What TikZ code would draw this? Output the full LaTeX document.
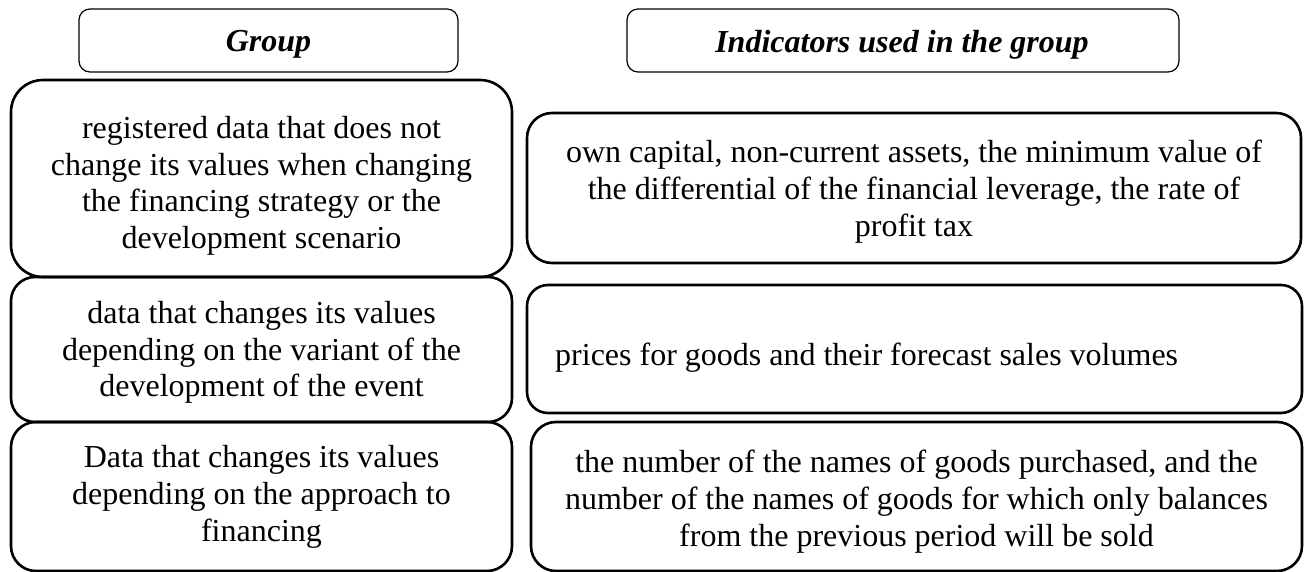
\documentclass[tikz,border=0pt]{standalone}
\usepackage{fontspec}
\setmainfont{Liberation Serif}
\begin{document}
\begin{tikzpicture}[x=1pt,y=-1pt,
  hdrbox/.style={draw, line width=1.2pt, rounded corners=11pt, inner sep=0pt},
  grpbox/.style={draw, line width=2.6pt, inner sep=0pt},
  txt/.style={align=center, inner sep=0pt, font=\fontsize{32}{36.8}\selectfont},
  hdrtxt/.style={inner sep=0pt, font=\fontsize{32}{36.8}\selectfont\bfseries\itshape}]
\useasboundingbox (0,0) rectangle (1310,572);
% headers
\node[hdrbox, minimum width=379pt, minimum height=63pt] (h1) at (268.5,40.5) {};
\node[hdrtxt] (h1t) at (268.5,44.5) {Group};
\node[hdrbox, minimum width=552pt, minimum height=63pt] (h2) at (903,40.5) {};
\node[hdrtxt] (h2t) at (902,45) {Indicators used in the group};
% left column
\node[grpbox, rounded corners=32pt, minimum width=501pt, minimum height=197pt] (g1) at (261.5,178.5) {};
\node[grpbox, rounded corners=24pt, minimum width=501pt, minimum height=145pt] (g2) at (261.5,349.5) {};
\node[grpbox, rounded corners=25pt, minimum width=501pt, minimum height=149pt] (g3) at (261.5,496.5) {};
\node[txt] (g1t) at (261.5,185.8) {registered data that does not\\change its values when changing\\the financing strategy or the\\development scenario};
\node[txt] (g2t) at (261.5,352.4) {data that changes its values\\depending on the variant of the\\development of the event};
\node[txt] (g3t) at (261.5,496.7) {Data that changes its values\\depending on the approach to\\financing};
% right column
\node[grpbox, rounded corners=25pt, minimum width=774pt, minimum height=150pt] (r1) at (914,188) {};
\node[grpbox, rounded corners=21pt, minimum width=775pt, minimum height=128pt] (r2) at (914.5,349) {};
\node[grpbox, rounded corners=25pt, minimum width=771pt, minimum height=149pt] (r3) at (916.5,496.5) {};
\node[txt] (r1t) at (914,191.4) {own capital, non-current assets, the minimum value of\\the differential of the financial leverage, the rate of\\profit tax};
\node[txt, anchor=base west] (r2t) at (555,365) {prices for goods and their forecast sales volumes};
\node[txt] (r3t) at (916.5,501.4) {the number of the names of goods purchased, and the\\number of the names of goods for which only balances\\from the previous period will be sold};
\end{tikzpicture}
\end{document}
